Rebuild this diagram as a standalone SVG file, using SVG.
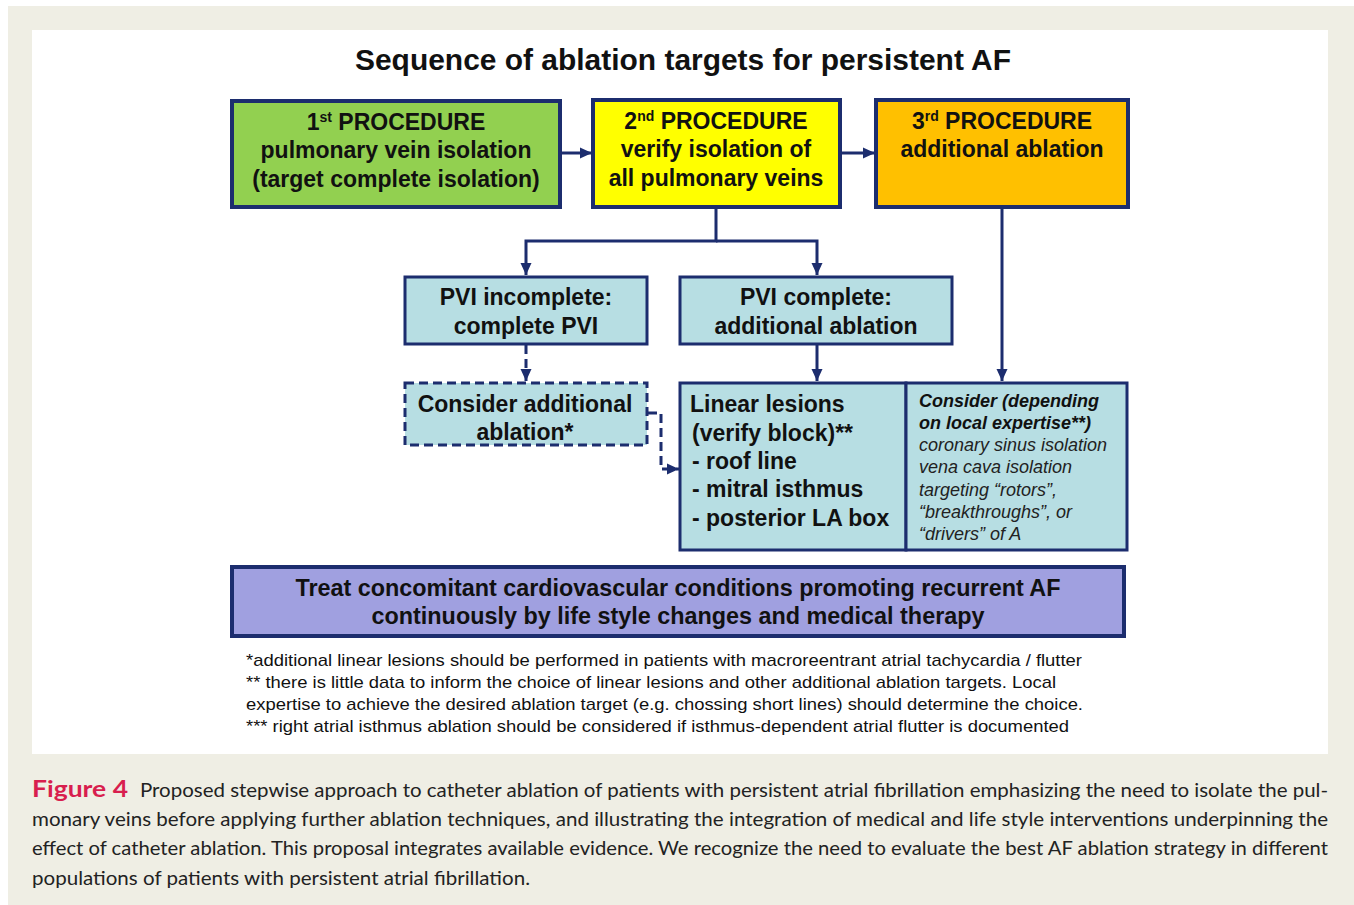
<svg xmlns="http://www.w3.org/2000/svg" width="1354" height="905" viewBox="0 0 1354 905">
<defs>
<marker id="ah" markerUnits="userSpaceOnUse" markerWidth="13" markerHeight="13" viewBox="0 0 13 13" refX="12" refY="6.5" orient="auto">
<path d="M0,1 L12,6.5 L0,12 Z" fill="#1C2D6E"/>
</marker>
<style>
.bx{stroke:#1C2D6E;stroke-width:4}
.t{font-family:"Liberation Sans",Arial,sans-serif;font-weight:bold;font-size:23px;fill:#111;text-anchor:middle}
.tl{font-family:"Liberation Sans",Arial,sans-serif;font-weight:bold;font-size:23px;fill:#111}
.ci{font-family:"Liberation Sans",Arial,sans-serif;font-style:italic;font-size:18px;fill:#222}
.cb{font-family:"Liberation Sans",Arial,sans-serif;font-style:italic;font-weight:bold;font-size:18px;fill:#111}
.fn{font-family:"Liberation Sans",Arial,sans-serif;font-size:17px;fill:#111}
.cap{font-family:Lato,"Open Sans",sans-serif;font-size:20px;fill:#222}
.c{fill:none;stroke:#1C2D6E;stroke-width:3}
.d{fill:none;stroke:#1C2D6E;stroke-width:3;stroke-dasharray:9 5}
.db{fill:#B7DEE3;stroke:#1C2D6E;stroke-width:3;stroke-dasharray:9 5}
</style>
</defs>
<rect x="0" y="0" width="1354" height="905" fill="#FFFFFF"/>
<rect x="8" y="6" width="1346" height="899" fill="#EFEEE4"/>
<rect x="32" y="30" width="1296" height="724" fill="#FFFFFF"/>

<text x="683" y="70" class="t" style="font-size:29px" textLength="656" lengthAdjust="spacingAndGlyphs">Sequence of ablation targets for persistent AF</text>

<g id="proc1">
<rect x="232" y="101" width="328" height="106" fill="#92D050" class="bx"/>
<text x="396" y="130" class="t">1<tspan font-size="14" dy="-8">st</tspan><tspan dy="8"> PROCEDURE</tspan></text>
<text x="396" y="158" class="t">pulmonary vein isolation</text>
<text x="396" y="187" class="t">(target complete isolation)</text>
</g>
<g id="proc2">
<rect x="593" y="100" width="247" height="107" fill="#FFFF00" class="bx"/>
<text x="716" y="129" class="t">2<tspan font-size="14" dy="-8">nd</tspan><tspan dy="8"> PROCEDURE</tspan></text>
<text x="716" y="157" class="t">verify isolation of</text>
<text x="716" y="186" class="t">all pulmonary veins</text>
</g>
<g id="proc3">
<rect x="876" y="100" width="252" height="107" fill="#FFC000" class="bx"/>
<text x="1002" y="129" class="t">3<tspan font-size="14" dy="-8">rd</tspan><tspan dy="8"> PROCEDURE</tspan></text>
<text x="1002" y="157" class="t">additional ablation</text>
</g>
<g id="pvi-incomplete">
<rect x="405" y="277" width="242" height="67" fill="#B7DEE3" class="bx" style="stroke-width:3"/>
<text x="526" y="305" class="t">PVI incomplete:</text>
<text x="526" y="334" class="t">complete PVI</text>
</g>
<g id="pvi-complete">
<rect x="680" y="277" width="272" height="67" fill="#B7DEE3" class="bx" style="stroke-width:3"/>
<text x="816" y="305" class="t">PVI complete:</text>
<text x="816" y="334" class="t">additional ablation</text>
</g>
<g id="consider-additional">
<rect x="405" y="383" width="242" height="62" class="db"/>
<text x="525" y="412" class="t">Consider additional</text>
<text x="525" y="440" class="t">ablation*</text>
</g>
<g id="linear-lesions">
<rect x="680" y="383" width="226" height="167" fill="#B7DEE3" class="bx" style="stroke-width:3"/>
<text x="690" y="412" class="tl">Linear lesions</text>
<text x="692" y="441" class="tl">(verify block)**</text>
<text x="692" y="469" class="tl">- roof line</text>
<text x="692" y="497" class="tl">- mitral isthmus</text>
<text x="692" y="526" class="tl">- posterior LA box</text>
</g>
<g id="consider-expertise">
<rect x="906" y="383" width="221" height="167" fill="#B7DEE3" class="bx" style="stroke-width:3"/>
<text x="919" y="407" class="cb">Consider (depending</text>
<text x="919" y="429" class="cb">on local expertise**)</text>
<text x="919" y="451" class="ci">coronary sinus isolation</text>
<text x="919" y="473" class="ci">vena cava isolation</text>
<text x="919" y="496" class="ci">targeting “rotors”,</text>
<text x="919" y="518" class="ci">“breakthroughs”, or</text>
<text x="919" y="540" class="ci">“drivers” of A</text>
</g>
<g id="treat">
<rect x="232" y="567" width="892" height="69" fill="#A0A0E0" class="bx"/>
<text x="678" y="596" class="t" textLength="765" lengthAdjust="spacingAndGlyphs">Treat concomitant cardiovascular conditions promoting recurrent AF</text>
<text x="678" y="624" class="t" textLength="613" lengthAdjust="spacingAndGlyphs">continuously by life style changes and medical therapy</text>
</g>

<g id="connectors">
<line x1="561" y1="153" x2="592" y2="153" class="c" marker-end="url(#ah)"/>
<line x1="841" y1="153" x2="875" y2="153" class="c" marker-end="url(#ah)"/>
<polyline points="716,208 716,241 526,241 526,275" class="c" marker-end="url(#ah)"/>
<polyline points="716,241 817,241 817,275" class="c" marker-end="url(#ah)"/>
<line x1="526" y1="345" x2="526" y2="381" class="d" marker-end="url(#ah)"/>
<polyline points="648,413 661,413 661,469 679,469" class="d" marker-end="url(#ah)"/>
<line x1="817" y1="345" x2="817" y2="381" class="c" marker-end="url(#ah)"/>
<line x1="1002" y1="208" x2="1002" y2="381" class="c" marker-end="url(#ah)"/>
</g>

<g id="footnotes">
<text x="246" y="666" class="fn" textLength="836" lengthAdjust="spacingAndGlyphs">*additional linear lesions should be performed in patients with macroreentrant atrial tachycardia / flutter</text>
<text x="246" y="688" class="fn" textLength="810" lengthAdjust="spacingAndGlyphs">** there is little data to inform the choice of linear lesions and other additional ablation targets. Local</text>
<text x="246" y="710" class="fn" textLength="837" lengthAdjust="spacingAndGlyphs">expertise to achieve the desired ablation target (e.g. chossing short lines) should determine the choice.</text>
<text x="246" y="732" class="fn" textLength="823" lengthAdjust="spacingAndGlyphs">*** right atrial isthmus ablation should be considered if isthmus-dependent atrial flutter is documented</text>
</g>

<g id="caption">
<text x="32" y="797" class="cap" style="font-weight:bold;fill:#D81E4E;font-size:22px" textLength="96" lengthAdjust="spacingAndGlyphs">Figure 4</text>
<text x="140" y="797" class="cap" textLength="1188" lengthAdjust="spacingAndGlyphs">Proposed stepwise approach to catheter ablation of patients with persistent atrial fibrillation emphasizing the need to isolate the pul-</text>
<text x="32" y="826" class="cap" textLength="1296" lengthAdjust="spacingAndGlyphs">monary veins before applying further ablation techniques, and illustrating the integration of medical and life style interventions underpinning the</text>
<text x="32" y="855" class="cap" textLength="1296" lengthAdjust="spacingAndGlyphs">effect of catheter ablation. This proposal integrates available evidence. We recognize the need to evaluate the best AF ablation strategy in different</text>
<text x="32" y="885" class="cap" textLength="498" lengthAdjust="spacingAndGlyphs">populations of patients with persistent atrial fibrillation.</text>
</g>
</svg>
